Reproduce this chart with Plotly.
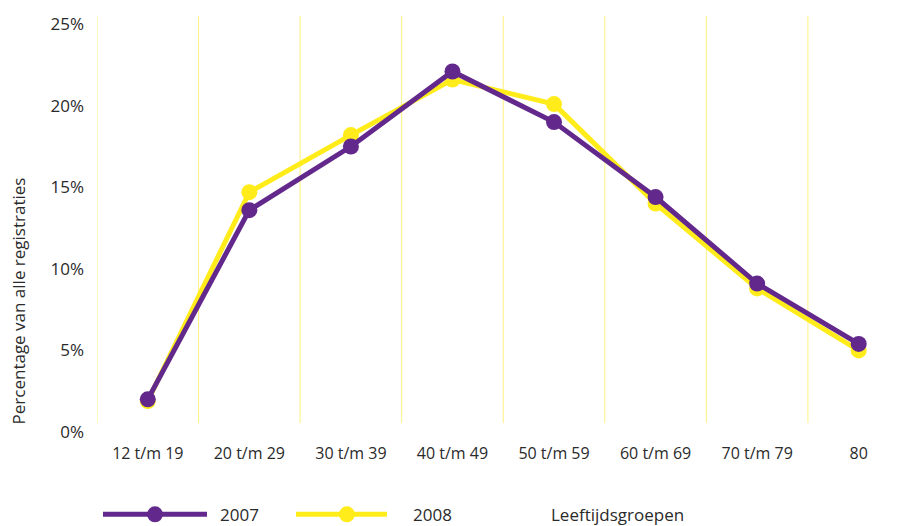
import plotly.graph_objects as go

categories = ["12 t/m 19", "20 t/m 29", "30 t/m 39", "40 t/m 49", "50 t/m 59",
              "60 t/m 69", "70 t/m 79", "80"]
values_2007 = [2.0, 13.6, 17.5, 22.1, 19.0, 14.4, 9.1, 5.4]
values_2008 = [1.9, 14.7, 18.2, 21.6, 20.1, 14.0, 8.8, 5.0]
y_tickvals = [0, 5, 10, 15, 20, 25]
y_ticktext = ["0%", "5%", "10%", "15%", "20%", "25%"]
series_names = ["2007", "2008"]

PURPLE = "#63288B"
YELLOW = "#FFEC1A"
GRID = "#FFF27F"
TEXT = "#2a2a2a"
FONT = "Open Sans"

x_idx = list(range(len(categories)))

fig = go.Figure()
fig.add_trace(go.Scatter(x=x_idx, y=values_2008, mode="lines+markers", name=series_names[1],
                         line=dict(color=YELLOW, width=5), marker=dict(color=YELLOW, size=16),
                         showlegend=False))
fig.add_trace(go.Scatter(x=x_idx, y=values_2007, mode="lines+markers", name=series_names[0],
                         line=dict(color=PURPLE, width=5), marker=dict(color=PURPLE, size=16),
                         showlegend=False))

shapes = []
for k in range(len(categories)):
    xb = k - 0.5
    shapes.append(dict(type="line", xref="x", yref="y", x0=xb, x1=xb, y0=0.55, y1=25.5,
                       line=dict(color=GRID, width=1), layer="below"))

# manual legend (paper coords)
leg_y = -0.198
for (x0, x1, xm, col) in [(0.0075, 0.1373, 0.0724, PURPLE), (0.2484, 0.362, 0.312, YELLOW)]:
    shapes.append(dict(type="line", xref="paper", yref="paper", x0=x0, x1=x1, y0=leg_y, y1=leg_y,
                       line=dict(color=col, width=5)))
    shapes.append(dict(type="circle", xref="paper", yref="paper", xsizemode="pixel", ysizemode="pixel",
                       xanchor=xm, yanchor=leg_y, x0=-8, x1=8, y0=-8, y1=8,
                       fillcolor=col, line=dict(color=col, width=0)))

annotations = [
    dict(text=series_names[0], xref="paper", yref="paper", x=0.151, y=leg_y, xanchor="left",
         yanchor="middle", showarrow=False, font=dict(size=17, color=TEXT, family=FONT)),
    dict(text=series_names[1], xref="paper", yref="paper", x=0.392, y=leg_y, xanchor="left",
         yanchor="middle", showarrow=False, font=dict(size=17, color=TEXT, family=FONT)),
    dict(text="Leeftijdsgroepen", xref="paper", yref="paper", x=0.564, y=leg_y, xanchor="left",
         yanchor="middle", showarrow=False, font=dict(size=17, color=TEXT, family=FONT)),
    dict(text="Percentage van alle registraties", xref="paper", yref="paper", x=-0.0975, y=0.316,
         textangle=-90, xanchor="center", yanchor="middle", showarrow=False,
         font=dict(size=17, color=TEXT, family=FONT)),
]

# page has an 8px body margin, so the figure is 8px smaller and margins shifted
fig.update_layout(
    width=894, height=518,
    margin=dict(l=89, r=4, t=6, b=94),
    paper_bgcolor="white", plot_bgcolor="white",
    font=dict(family=FONT, size=16, color=TEXT),
    shapes=shapes, annotations=annotations,
    xaxis=dict(range=[-0.5, 7.387], tickvals=x_idx, ticktext=categories, showgrid=False,
               zeroline=False, showline=False, ticks="", ticklabelstandoff=10,
               tickfont=dict(size=16, color=TEXT, family=FONT), fixedrange=True),
    yaxis=dict(range=[0, 25.5], tickvals=y_tickvals, ticktext=y_ticktext, showgrid=False,
               zeroline=False, showline=False, ticks="", ticklabelstandoff=12,
               tickfont=dict(size=17, color=TEXT, family=FONT), fixedrange=True),
)

fig.write_html("out.html")
